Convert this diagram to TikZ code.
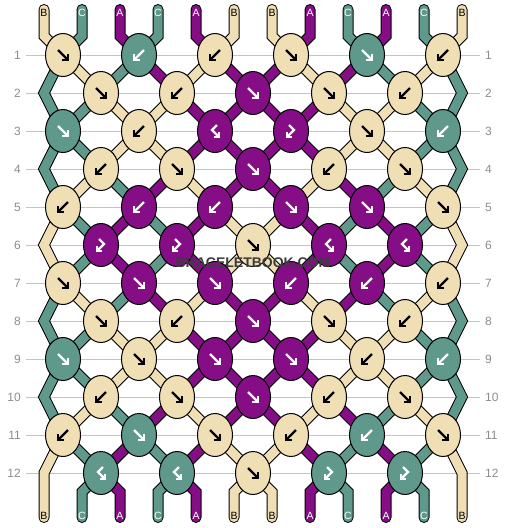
\documentclass[tikz,border=0pt]{standalone}
\usepackage{fontspec}
\setmainfont{Liberation Sans}
\usetikzlibrary{shapes.geometric,calc}

\definecolor{cA}{HTML}{850E87}
\definecolor{cB}{HTML}{F0DEB4}
\definecolor{cC}{HTML}{5E998C}
\colorlet{inkcA}{white}
\colorlet{inkcB}{black}
\colorlet{inkcC}{white}
\definecolor{rulegray}{HTML}{C4C4C4}
\definecolor{numgray}{HTML}{8C8C8C}
\definecolor{markgray}{HTML}{3C3C3C}

\pgfdeclarelayer{rules}
\pgfdeclarelayer{threads}
\pgfsetlayers{rules,threads,main}

\tikzset{
  knot/.style={ellipse, draw=black, line width=1pt, fill=#1, minimum width=35pt, minimum height=43pt, inner sep=0pt},
  strand/.style={draw=black, double=#1, double distance=9pt, line width=1pt},
  glyphline/.style={line width=2.2pt, line join=miter, line cap=butt},
  rownum/.style={text=numgray, inner sep=5pt, font=\fontsize{12}{14}\selectfont},
  rowrule/.style={draw=rulegray, line width=1pt},
  endlabel/.style={inner sep=0pt, font=\fontsize{10.5}{12}\selectfont},
  wmark/.style={inner sep=1pt, font=\bfseries\fontsize{14}{16}\selectfont},
}

% knot arrows
\newcommand{\glyphfwd}{\draw[glyphline] (-5,-5) -- (5,5); \draw[glyphline] (-1,5) -- (5,5) -- (5,-1);}
\newcommand{\glyphbwd}{\draw[glyphline] (5,-5) -- (-5,5); \draw[glyphline] (1,5) -- (-5,5) -- (-5,-1);}
\newcommand{\glyphfb}{\draw[glyphline] (2,-6) -- (-3,-1) -- (4,6); \draw[glyphline] (-1,6) -- (4,6) -- (4,1);}
\newcommand{\glyphbf}{\draw[glyphline] (-2,-6) -- (3,-1) -- (-4,6); \draw[glyphline] (1,6) -- (-4,6) -- (-4,1);}

\begin{document}
\begin{tikzpicture}[x=1pt, y=-1pt]
\useasboundingbox (0,0) rectangle (506,528);

% row numbers and rules
\foreach \r in {1,...,12} {
  \pgfmathsetmacro\ry{17+38*\r}
  \node[rownum, anchor=east] (nl\r) at (26,\ry) {\r};
  \node[rownum, anchor=west] (nr\r) at (480,\ry) {\r};
  \begin{pgfonlayer}{rules}
    \draw[rowrule] (nl\r.east) -- (nr\r.west);
  \end{pgfonlayer}
}

% knots
\foreach \r/\row in {
  1/{fwd/cB,bwd/cC,bwd/cB,fwd/cB,fwd/cC,bwd/cB},
  2/{fwd/cB,bwd/cB,fwd/cA,fwd/cB,bwd/cB},
  3/{fwd/cC,bwd/cB,fb/cA,bf/cA,fwd/cB,bwd/cC},
  4/{bwd/cB,fwd/cB,fwd/cA,bwd/cB,fwd/cB},
  5/{bwd/cB,bwd/cA,bwd/cA,fwd/cA,fwd/cA,fwd/cB},
  6/{bf/cA,bf/cA,fwd/cB,fb/cA,fb/cA},
  7/{fwd/cB,fwd/cA,fwd/cA,bwd/cA,bwd/cA,bwd/cB},
  8/{fwd/cB,bwd/cB,fwd/cA,fwd/cB,bwd/cB},
  9/{fwd/cC,fwd/cB,fwd/cA,fwd/cA,bwd/cB,bwd/cC},
  10/{bwd/cB,fwd/cB,fwd/cA,bwd/cB,fwd/cB},
  11/{bwd/cB,fwd/cC,fwd/cB,bwd/cB,bwd/cC,fwd/cB},
  12/{fb/cC,fb/cC,fwd/cB,bf/cC,bf/cC}}{
  \pgfmathsetmacro\ky{17+38*\r}
  \foreach \t/\c [count=\i from 0] in \row {
    \pgfmathsetmacro\kx{63+38*mod(\r+1,2)+76*\i}
    \node[knot=\c] (k\r-\i) at (\kx,\ky) {};
    \begin{scope}[shift={(k\r-\i.center)}, color=ink\c]
      \csname glyph\t\endcsname
    \end{scope}
  }
}

% threads between knots
\begin{pgfonlayer}{threads}
\foreach \r/\cols in {
  1/{cC,cB,cC,cA,cB,cA,cA,cB,cA,cC,cB,cC},
  2/{cC,cC,cB,cB,cA,cA,cA,cA,cB,cB,cC,cC},
  3/{cC,cC,cB,cB,cA,cA,cA,cA,cB,cB,cC,cC},
  4/{cC,cB,cC,cA,cB,cA,cA,cB,cA,cC,cB,cC},
  5/{cB,cC,cA,cC,cA,cB,cB,cA,cC,cA,cC,cB},
  6/{cB,cC,cA,cC,cA,cB,cB,cA,cC,cA,cC,cB},
  7/{cC,cB,cC,cA,cB,cA,cA,cB,cA,cC,cB,cC},
  8/{cC,cC,cB,cB,cA,cA,cA,cA,cB,cB,cC,cC},
  9/{cC,cC,cB,cB,cA,cA,cA,cA,cB,cB,cC,cC},
  10/{cC,cB,cC,cA,cB,cA,cA,cB,cA,cC,cB,cC},
  11/{cB,cC,cA,cC,cA,cB,cB,cA,cC,cA,cC,cB}}{
  \pgfmathtruncatemacro\odd{mod(\r,2)}
  \pgfmathtruncatemacro\rb{\r+1}
  \foreach \c [count=\k from 0] in \cols {
    \ifnum\k>0 \ifnum\k<11
      \pgfmathtruncatemacro\ia{\odd*floor(\k/2)+(1-\odd)*floor((\k-1)/2)}
      \pgfmathtruncatemacro\ib{\odd*floor((\k-1)/2)+(1-\odd)*floor(\k/2)}
      \draw[strand=\c] (k\r-\ia.center) -- (k\rb-\ib.center);
    \fi\fi
  }
}
\end{pgfonlayer}

% edge turns
\foreach \r/\c in {2/cC,4/cC,6/cB,8/cC,10/cC}{
  \pgfmathsetmacro\ey{17+38*\r}
  \pgfmathtruncatemacro\ra{\r-1}
  \pgfmathtruncatemacro\rb{\r+1}
  \coordinate (eL\r) at (44,\ey);
  \coordinate (eR\r) at (462,\ey);
  \begin{pgfonlayer}{threads}
    \draw[strand=\c] (k\ra-0.center) -- (eL\r) -- (k\rb-0.center);
    \draw[strand=\c] (k\ra-5.center) -- (eR\r) -- (k\rb-5.center);
  \end{pgfonlayer}
}

% top ends
\foreach \c/\lab [count=\k from 0] in {cB/B,cC/C,cA/A,cC/C,cA/A,cB/B,cB/B,cA/A,cC/C,cA/A,cC/C,cB/B}{
  \pgfmathsetmacro\sx{44+38*\k}
  \pgfmathtruncatemacro\i{floor(\k/2)}
  \node[endlabel, text=ink\c] (lt\k) at (\sx,12.5) {\lab};
  \begin{pgfonlayer}{threads}
    \draw[strand=\c, line cap=round] (lt\k.center) ++(0,-3) -- ++(0,26.5) -- (k1-\i.center);
  \end{pgfonlayer}
}

% bottom ends
\foreach \c/\lab [count=\k from 0] in {cB/B,cC/C,cA/A,cC/C,cA/A,cB/B,cB/B,cA/A,cC/C,cA/A,cC/C,cB/B}{
  \pgfmathsetmacro\sx{44+38*\k}
  \node[endlabel, text=ink\c] (lb\k) at (\sx,516) {\lab};
  \begin{pgfonlayer}{threads}
  \ifnum\k=0
    \draw[strand=\c, line cap=round] (k11-0.center) -- (44,473) -- ($(lb\k.center)+(0,1.5)$);
  \else\ifnum\k=11
    \draw[strand=\c, line cap=round] (k11-5.center) -- (462,473) -- ($(lb\k.center)+(0,1.5)$);
  \else
    \pgfmathtruncatemacro\j{floor((\k-1)/2)}
    \pgfmathsetmacro\dx{19-38*mod(\k,2)}
    \draw[strand=\c, line cap=round] (k12-\j.center) -- ++(\dx,19) -- ($(lb\k.center)+(0,1.5)$);
  \fi\fi
  \end{pgfonlayer}
}

% watermark
\node[wmark, text=markgray] (wm) at (253,263) {BRACELETBOOK.COM};
\end{tikzpicture}
\end{document}
